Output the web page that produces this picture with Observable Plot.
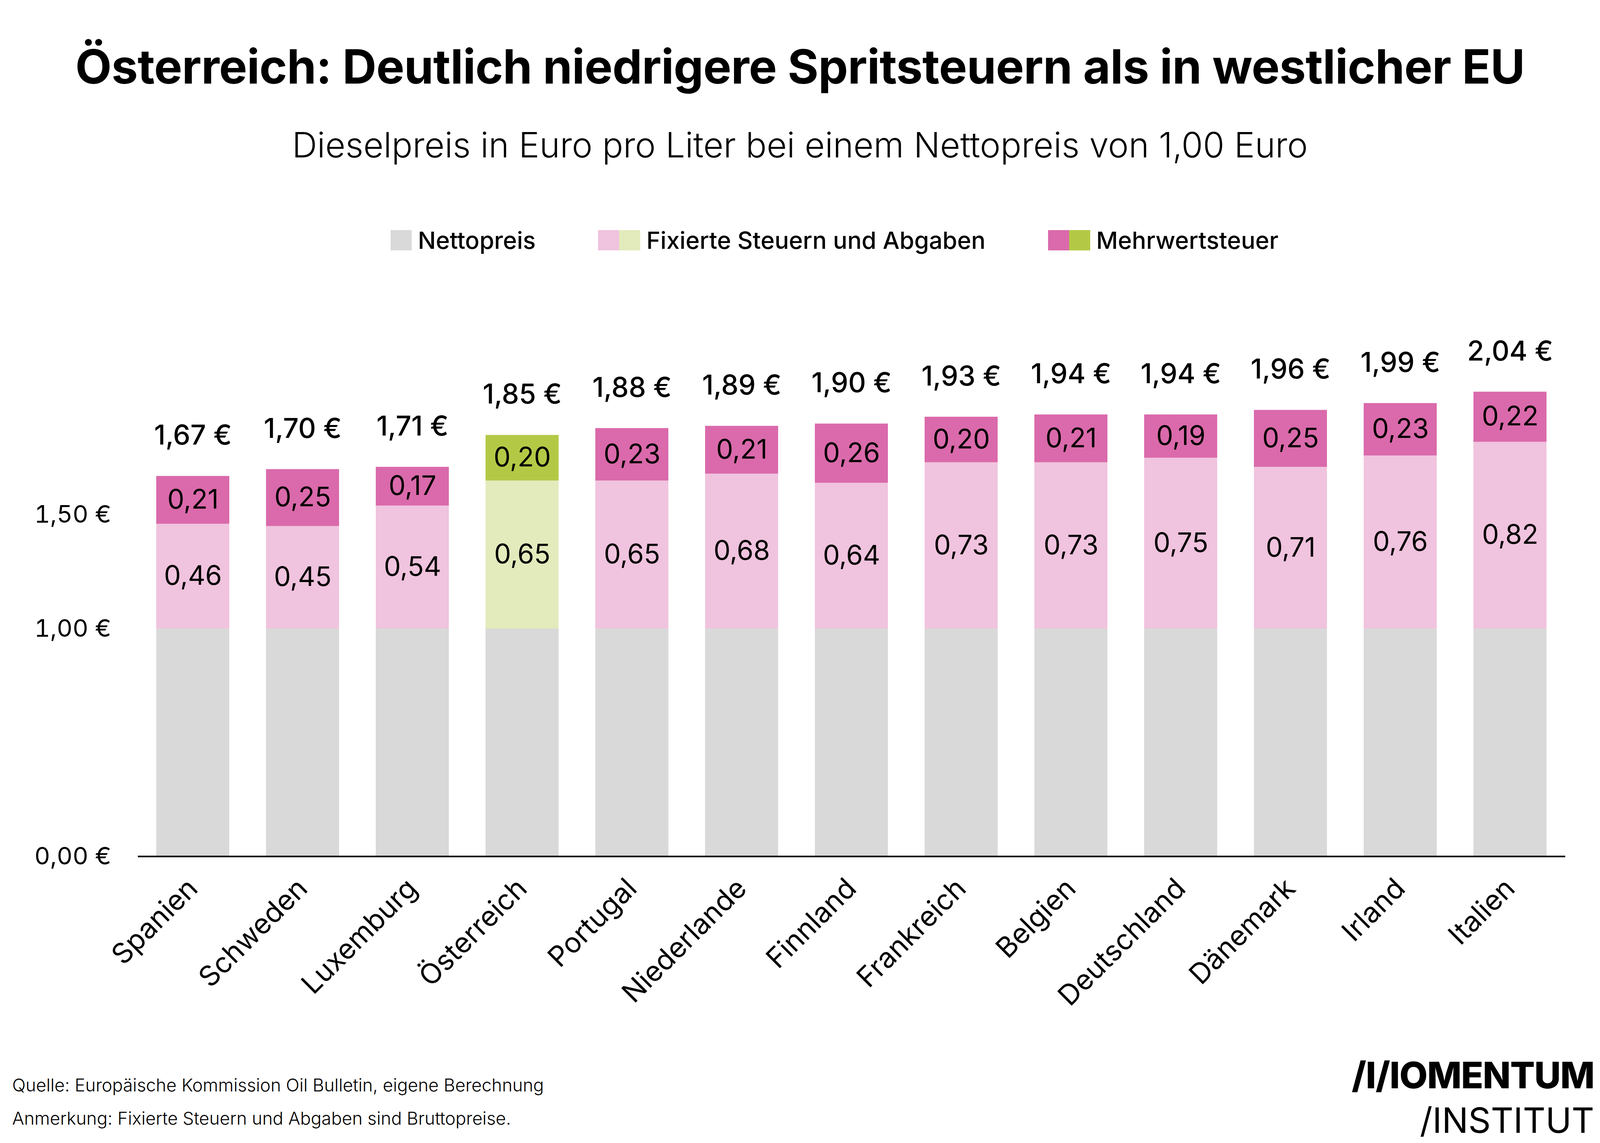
<!DOCTYPE html>
<html>
<head>
<meta charset="utf-8">
<script src="https://cdn.jsdelivr.net/npm/d3@7"></script>
<script src="https://cdn.jsdelivr.net/npm/@observablehq/plot@0.6"></script>
<style>
  html, body { margin: 0; padding: 0; background: #ffffff; overflow: hidden; }
  #page { position: relative; overflow: hidden; background: #ffffff; font-family: Inter, "Noto Sans", sans-serif; color: #000; }
  #chart { position: absolute; left: 0; top: 0; }
  .abs { position: absolute; white-space: nowrap; }
  #legend { display: flex; align-items: center; }
  .item { display: flex; align-items: center; }
</style>
</head>
<body>
<div id="page">
  <div id="chart"></div>
  <div id="title" class="abs">Österreich: Deutlich niedrigere Spritsteuern als in westlicher EU</div>
  <div id="subtitle" class="abs">Dieselpreis in Euro pro Liter bei einem Nettopreis von 1,00 Euro</div>
  <div id="legend" class="abs"></div>
  <div id="source" class="abs">Quelle: Europäische Kommission Oil Bulletin, eigene Berechnung</div>
  <div id="note" class="abs">Anmerkung: Fixierte Steuern und Abgaben sind Bruttopreise.</div>
  <div id="logo1" class="abs">/I/IOMENTUM</div>
  <div id="logo2" class="abs">/INSTITUT</div>
</div>
<script>
// ---- data ----
const countries = ["Spanien", "Schweden", "Luxemburg", "Österreich", "Portugal", "Niederlande", "Finnland", "Frankreich", "Belgien", "Deutschland", "Dänemark", "Irland", "Italien"];
const netPrice  = [1.00, 1.00, 1.00, 1.00, 1.00, 1.00, 1.00, 1.00, 1.00, 1.00, 1.00, 1.00, 1.00];
const fixedTax  = [0.46, 0.45, 0.54, 0.65, 0.65, 0.68, 0.64, 0.73, 0.73, 0.75, 0.71, 0.76, 0.82];
const vat       = [0.21, 0.25, 0.17, 0.20, 0.23, 0.21, 0.26, 0.20, 0.21, 0.19, 0.25, 0.23, 0.22];
const totals    = [1.67, 1.70, 1.71, 1.85, 1.88, 1.89, 1.90, 1.93, 1.94, 1.94, 1.96, 1.99, 2.04];
const yTicks    = [0, 1, 1.5];
const highlight = "Österreich";

const colors = {
  net: "#d9d9d9",
  fixed: "#f0c3de", fixedHi: "#e3ebbd",
  vat: "#da6aab", vatHi: "#b3c946"
};
const legendLabels = ["Nettopreis", "Fixierte Steuern und Abgaben", "Mehrwertsteuer"];
const legendSwatches = [[colors.net], [colors.fixed, colors.fixedHi], [colors.vat, colors.vatHi]];

// ---- fit the 5246×2926 design into the actual window ----
const W0 = 5246, H0 = 2926;
const VW = window.innerWidth || W0, VH = window.innerHeight || H0;
const sx = VW / W0, sy = VH / H0;
const fs = Math.min(sx, sy);              // text keeps its proportions
const X = v => v * sx, Y = v => v * sy, F = v => v * fs;

const page = document.getElementById("page");
page.style.width = VW + "px";
page.style.height = VH + "px";

// place an HTML text so that its capitals are centred on a given y (Inter metrics)
function place(id, {x, anchor = "start", center, size, weight = 400, spacing = 0}) {
  const el = document.getElementById(id);
  const baseline = center + 0.3635 * size;
  el.style.fontSize = size + "px";
  el.style.lineHeight = size + "px";
  el.style.fontWeight = weight;
  el.style.letterSpacing = spacing + "px";
  el.style.top = (baseline - 0.863 * size) + "px";
  if (anchor === "middle") { el.style.left = "0px"; el.style.width = VW + "px"; el.style.textAlign = "center"; }
  else if (anchor === "end") { el.style.right = (VW - x) + "px"; el.style.textAlign = "right"; }
  else { el.style.left = x + "px"; }
  return el;
}

place("title",    {anchor: "middle", center: Y(170), size: F(155), weight: 700, spacing: -1 * fs});
place("subtitle", {anchor: "middle", center: Y(370), size: F(114), weight: 300});
place("source",   {x: X(40), center: Y(2778), size: F(58), weight: 300});
place("note",     {x: X(40), center: Y(2863), size: F(58), weight: 300});
place("logo1",    {x: X(5227), anchor: "end", center: Y(2753), size: F(120), weight: 800, spacing: -2 * fs});
place("logo2",    {x: X(5227), anchor: "end", center: Y(2868), size: F(115), weight: 400});

// ---- legend ----
const legend = document.getElementById("legend");
const legSize = F(78);
legend.style.left = X(1281) + "px";
legend.style.top = (Y(615) - legSize / 2) + "px";
legend.style.height = legSize + "px";
legend.style.fontSize = legSize + "px";
legend.style.lineHeight = legSize + "px";
legend.style.fontWeight = 500;
legendLabels.forEach((t, i) => {
  const item = document.createElement("div");
  item.className = "item";
  if (i < legendLabels.length - 1) item.style.marginRight = F(205) + "px";
  legendSwatches[i].forEach(col => {
    const sw = document.createElement("div");
    sw.style.width = F(69) + "px";
    sw.style.height = F(67) + "px";
    sw.style.background = col;
    item.appendChild(sw);
  });
  const l = document.createElement("span");
  l.style.marginLeft = F(20) + "px";
  l.textContent = t;
  item.appendChild(l);
  legend.appendChild(item);
});

// ---- build table ----
const rows = [];
countries.forEach((c, i) => {
  const hi = c === highlight;
  rows.push({country: c, cat: "net", value: netPrice[i], fill: colors.net, label: null});
  rows.push({country: c, cat: "fixed", value: fixedTax[i], fill: hi ? colors.fixedHi : colors.fixed, label: true});
  rows.push({country: c, cat: "vat", value: vat[i], fill: hi ? colors.vatHi : colors.vat, label: true});
});
const totalRows = countries.map((c, i) => ({country: c, total: totals[i]}));

const fmt = v => d3.format(".2f")(v).replace(".", ",");

// ---- chart ----
const baseY = Y(2192), pxPerUnit = Y(583), yMax = 2.5;
const chart = Plot.plot({
  width: VW,
  height: VH,
  marginLeft: X(452),
  marginRight: X(114),
  marginBottom: VH - baseY,
  marginTop: baseY - pxPerUnit * yMax,
  style: {fontFamily: "Inter, 'Noto Sans', sans-serif", background: "transparent", color: "#000"},
  x: {domain: countries, paddingInner: 1/3, paddingOuter: 1/6},
  y: {domain: [0, yMax]},
  color: {type: "identity"},
  marks: [
    Plot.barY(rows, {x: "country", y: "value", z: "cat", fill: "fill"}),
    Plot.text(rows, Plot.stackY({
      x: "country", y: "value", z: "cat",
      text: d => d.label ? fmt(d.value) : null,
      fontSize: F(88), fill: "#000"
    })),
    Plot.text(totalRows, {
      x: "country", y: "total", text: d => fmt(d.total) + " €",
      dy: -Y(103), fontSize: F(90), fontWeight: 500, fill: "#000"
    }),
    Plot.ruleY([0], {stroke: "#000", strokeWidth: Math.max(2, F(5))}),
    Plot.axisY({ticks: yTicks, tickSize: 0, tickPadding: X(88), fontSize: F(80), label: null,
      tickFormat: d => fmt(d) + " €"}),
    Plot.axisX({tickSize: 0, tickRotate: -45, tickPadding: Y(70), fontSize: F(92), label: null})
  ]
});
document.getElementById("chart").appendChild(chart);
</script>
</body>
</html>
